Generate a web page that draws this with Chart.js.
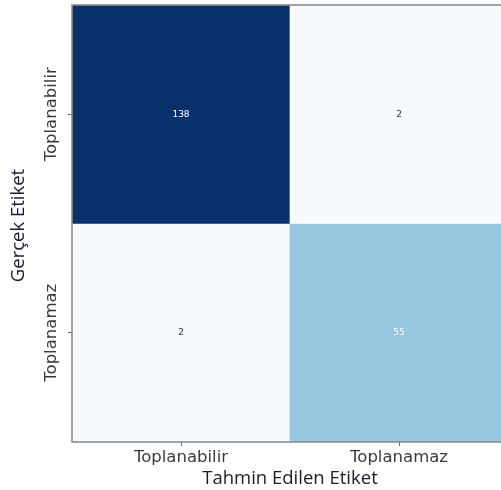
<!DOCTYPE html>
<html>
<head>
<meta charset="utf-8">
<script src="https://cdn.jsdelivr.net/npm/chart.js@4.4.1/dist/chart.umd.min.js"></script>
<style>
  html, body { margin: 0; padding: 0; overflow: hidden; background: #ffffff; }
  canvas { display: block; }
</style>
</head>
<body>
<canvas id="cm" width="512" height="490"></canvas>
<script>
// Confusion matrix: rows = true label, columns = predicted label
const categories = ['Toplanabilir', 'Toplanamaz'];
const rowToplanabilir = [138, 2];
const rowToplanamaz = [2, 55];
const matrixRows = [rowToplanabilir, rowToplanamaz];
const xTitle = 'Tahmin Edilen Etiket';
const yTitle = 'Gerçek Etiket';

// Sequential "Blues" colour ramp
const bluesStops = ['#f7fbff', '#deebf7', '#c6dbef', '#9ecae1', '#6baed6',
                    '#4292c6', '#2171b5', '#08519c', '#08306b'];
function hexToRgb(h) {
  return [1, 3, 5].map(i => parseInt(h.slice(i, i + 2), 16));
}
function blues(t) {
  t = Math.max(0, Math.min(1, t));
  const pos = t * (bluesStops.length - 1);
  const i = Math.min(Math.floor(pos), bluesStops.length - 2);
  const f = pos - i;
  const a = hexToRgb(bluesStops[i]), b = hexToRgb(bluesStops[i + 1]);
  const c = a.map((v, k) => Math.round(v + (b[k] - v) * f));
  return `rgb(${c[0]},${c[1]},${c[2]})`;
}

const allValues = matrixRows.flat();
const vMin = Math.min(...allValues);
const vMax = Math.max(...allValues);
const norm = v => (v - vMin) / (vMax - vMin);
const n = categories.length;

const tickFont = { family: 'DejaVu Sans', size: 16.5 };
const titleFont = { family: 'Open Sans', size: 18.5 };
const titleColor = '#1a1a30';

// Each true-label row becomes one floating-bar dataset spanning one band of the y scale
const datasets = matrixRows.map((row, i) => ({
  label: categories[i],
  data: row.map(() => [n - 1 - i, n - i]),
  backgroundColor: row.map(v => blues(norm(v))),
  borderWidth: 0,
  barPercentage: 1,
  categoryPercentage: 1,
  grouped: false
}));

const annotate = {
  id: 'annotate',
  afterDraw(chart) {
    const { ctx, chartArea: a, scales: { x, y } } = chart;
    ctx.save();

    // axes frame
    ctx.strokeStyle = '#8c8c8c';
    ctx.lineWidth = 1.6;
    ctx.strokeRect(a.left, a.top, a.right - a.left, a.bottom - a.top);

    // cell counts
    ctx.font = '9px "DejaVu Sans"';
    ctx.textAlign = 'center';
    ctx.textBaseline = 'middle';
    matrixRows.forEach((row, i) => {
      row.forEach((v, j) => {
        ctx.fillStyle = norm(v) > 0.3 ? '#ffffff' : '#333333';
        ctx.fillText(String(v), x.getPixelForValue(j), y.getPixelForValue(n - 1 - i + 0.5));
      });
    });

    // y tick labels, rotated
    ctx.fillStyle = '#3a3a3a';
    ctx.font = `${tickFont.size}px "${tickFont.family}"`;
    categories.forEach((c, i) => {
      ctx.save();
      ctx.translate(52, y.getPixelForValue(n - 1 - i + 0.5));
      ctx.rotate(-Math.PI / 2);
      ctx.fillText(c, 0, 0);
      ctx.restore();
    });

    // y axis title
    ctx.fillStyle = titleColor;
    ctx.font = `${titleFont.size}px "${titleFont.family}"`;
    ctx.save();
    ctx.translate(19, (a.top + a.bottom) / 2 + 2);
    ctx.rotate(-Math.PI / 2);
    ctx.fillText(yTitle, 0, 0);
    ctx.restore();

    ctx.restore();
  }
};

new Chart(document.getElementById('cm'), {
  type: 'bar',
  data: { labels: categories, datasets },
  options: {
    responsive: false,
    animation: false,
    layout: { padding: { top: 5, right: 4, left: 0, bottom: 0 } },
    plugins: { legend: { display: false }, tooltip: { enabled: false } },
    scales: {
      x: {
        grid: { display: true, drawOnChartArea: false, offset: false, tickLength: 4, color: '#666666' },
        border: { display: false },
        ticks: { color: '#3a3a3a', font: tickFont, padding: 2, maxRotation: 0 },
        title: { display: true, text: xTitle, color: titleColor, font: titleFont, padding: 0 },
        afterFit(scale) { scale.height = 48; }
      },
      y: {
        min: 0,
        max: n,
        afterBuildTicks(scale) {
          scale.ticks = categories.map((c, i) => ({ value: n - 1 - i + 0.5 }));
        },
        grid: { display: true, drawOnChartArea: false, tickLength: 4, color: '#666666' },
        border: { display: false },
        ticks: { display: false },
        afterFit(scale) { scale.width = 72; }
      }
    }
  },
  plugins: [annotate]
});
</script>
</body>
</html>
